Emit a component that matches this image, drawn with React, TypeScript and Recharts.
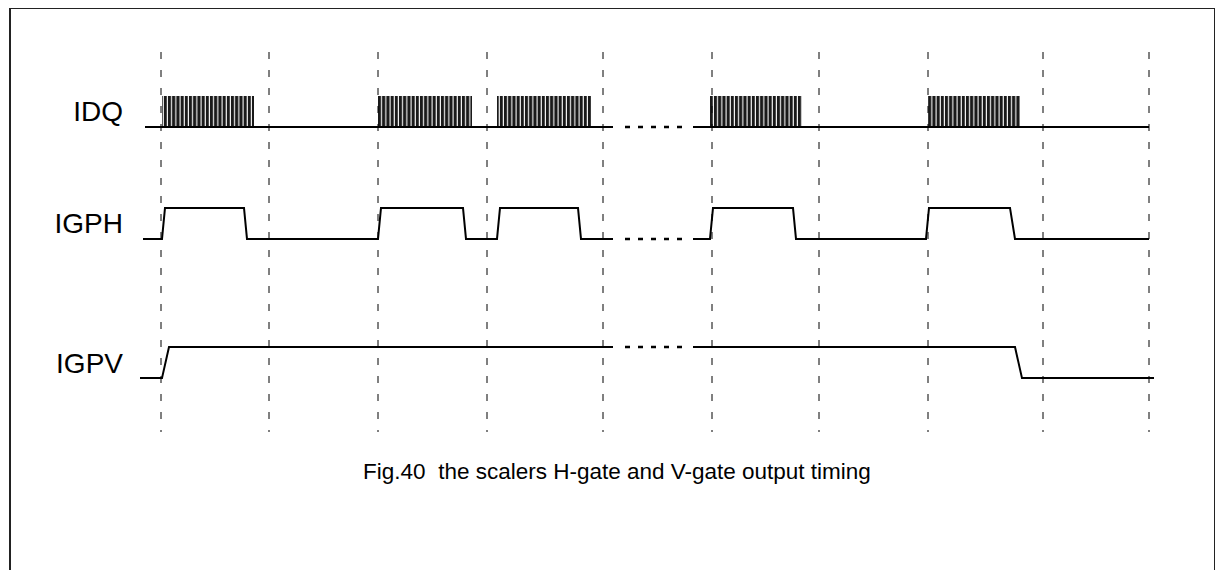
import React from "react";
import { ComposedChart, Line, XAxis, YAxis, ReferenceLine, ReferenceArea } from "recharts";

const W = 1216;
const H = 570;
const LEVEL_PX = 31; // height of one logic level

// time marks (dashed guides)
const gridTimes = [161, 269, 378, 487, 603, 712, 819, 928, 1043, 1149];

const signalNames = ["IDQ", "IGPH", "IGPV"];
const rowBase = [14.29, 10.68, 6.19]; // low level of each row, in level units

// IDQ: clock bursts over a low line
const idqBurstStart = [162, 378, 497, 710, 928];
const idqBurstEnd = [254, 472, 591, 802, 1020];
const idqT = [145, 613];
const idqL = [0, 0];
const idqT2 = [693, 1149];
const idqL2 = [0, 0];

// IGPH
const igphT = [143, 162, 165, 244, 247, 378, 381, 463, 466, 497, 500, 578, 581, 613];
const igphL = [0, 0, 1, 1, 0, 0, 1, 1, 0, 0, 1, 1, 0, 0];
const igphT2 = [693, 710, 713, 793, 796, 926, 929, 1010, 1015, 1149];
const igphL2 = [0, 0, 1, 1, 0, 0, 1, 1, 0, 0];

// IGPV
const igpvT = [140, 162, 169, 613];
const igpvL = [0, 0, 1, 1];
const igpvT2 = [693, 1015, 1022, 1154];
const igpvL2 = [1, 1, 0, 0];

// the "....." break in every row
const gapT = [625, 690];
const gapLevel = [0, 0, 1];

const caption = "Fig.40  the scalers H-gate and V-gate output timing";

const GRID_TOP = (H - 52) / LEVEL_PX;
const GRID_BOTTOM = (H - 432) / LEVEL_PX;

const mk = (ts: number[], ls: number[], row: number) =>
  ts.map((t, i) => ({ t, v: rowBase[row] + ls[i] }));

const font = "'Liberation Sans', Arial, sans-serif";

const traces = [
  mk(idqT, idqL, 0),
  mk(idqT2, idqL2, 0),
  mk(igphT, igphL, 1),
  mk(igphT2, igphL2, 1),
  mk(igpvT, igpvL, 2),
  mk(igpvT2, igpvL2, 2),
];

const labelFor = (v: number) => {
  let best = 0;
  rowBase.forEach((b, i) => {
    if (Math.abs(b + 0.5 - v) < Math.abs(rowBase[best] + 0.5 - v)) best = i;
  });
  return signalNames[best];
};

export default function App() {
  return (
    <div style={{ position: "absolute", left: 0, top: 0, width: W, height: H, background: "#fff", overflow: "hidden" }}>
      <svg width={0} height={0} style={{ position: "absolute" }}>
        <defs>
          <pattern id="clk" patternUnits="userSpaceOnUse" width={4.2} height={60}>
            <rect x={0} y={0} width={3.1} height={60} fill="#1a1a1a" />
          </pattern>
        </defs>
      </svg>
      <div
        style={{
          position: "absolute",
          left: 9,
          top: 8,
          width: 1206,
          height: 570,
          boxSizing: "border-box",
          borderLeft: "2px solid #222",
          borderTop: "1.5px solid #222",
          borderRight: "1.5px solid #222",
        }}
      />
      <div style={{ position: "absolute", left: 0, top: 0 }}>
        <ComposedChart width={W} height={H} margin={{ top: 0, right: 0, bottom: 0, left: 0 }}>
          <XAxis type="number" dataKey="t" domain={[123, W]} allowDataOverflow hide />
          <YAxis
            type="number"
            domain={[0, H / LEVEL_PX]}
            allowDataOverflow
            width={123}
            ticks={rowBase.map((b) => b + 0.5)}
            tickFormatter={labelFor}
            axisLine={false}
            tickLine={false}
            tickSize={0}
            tickMargin={0}
            tick={{ fill: "#000", fontSize: 28, fontFamily: font }}
          />
          {gridTimes.map((t) => (
            <ReferenceLine
              key={"g" + t}
              segment={[
                { x: t, y: GRID_TOP },
                { x: t, y: GRID_BOTTOM },
              ]}
              stroke="#000"
              strokeWidth={1}
              strokeDasharray="7 11"
            />
          ))}
          {idqBurstStart.map((s, i) => (
            <ReferenceArea
              key={"b" + s}
              x1={s}
              x2={idqBurstEnd[i]}
              y1={rowBase[0]}
              y2={rowBase[0] + 1}
              fill="url(#clk)"
              fillOpacity={1}
              stroke="none"
            />
          ))}
          {traces.map((d, i) => (
            <Line
              key={"s" + i}
              data={d}
              dataKey="v"
              type="linear"
              stroke="#000"
              strokeWidth={2}
              dot={false}
              activeDot={false}
              isAnimationActive={false}
            />
          ))}
          {gapLevel.map((lv, i) => (
            <Line
              key={"gap" + i}
              data={gapT.map((t) => ({ t, v: rowBase[i] + lv }))}
              dataKey="v"
              type="linear"
              stroke="#000"
              strokeWidth={2.5}
              strokeDasharray="5 8"
              dot={false}
              activeDot={false}
              isAnimationActive={false}
            />
          ))}
        </ComposedChart>
      </div>
      <div
        style={{
          position: "absolute",
          left: 0,
          width: 1234,
          top: 459,
          textAlign: "center",
          fontFamily: font,
          fontSize: 22.5,
          lineHeight: "26px",
          whiteSpace: "pre",
          color: "#000",
        }}
      >
        {caption}
      </div>
    </div>
  );
}
